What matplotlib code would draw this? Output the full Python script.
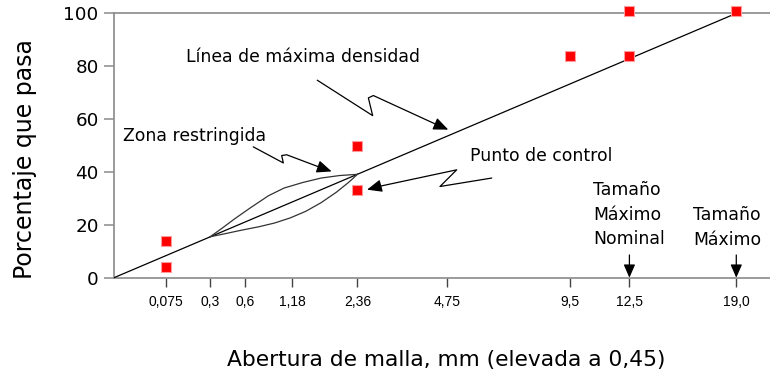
import matplotlib
matplotlib.use("Agg")
import matplotlib.pyplot as plt
import numpy as np

# Sieve openings (mm) and their labels
sieve_mm = [0.075, 0.3, 0.6, 1.18, 2.36, 4.75, 9.5, 12.5, 19.0]
sieve_labels = ["0,075", "0,3", "0,6", "1,18", "2,36", "4,75", "9,5", "12,5", "19,0"]

# Control points (red squares)
ctrl_mm = [0.075, 0.075, 2.36, 2.36, 9.5, 12.5, 12.5, 19.0]
ctrl_pct = [14, 4, 50, 33, 84, 101, 84, 101]

# Maximum density line end points
maxdens_mm = [0.0, 19.0]
maxdens_pct = [0, 100]

# Restricted zone boundaries
zone_upper_mm = [0.3, 0.388, 0.494, 0.646, 0.859, 1.063, 1.339, 1.650, 1.996, 2.36]
zone_upper_pct = [15.5, 18.7, 22.2, 26.3, 31.0, 33.9, 36.0, 37.7, 38.65, 39.1]
zone_lower_mm = [0.3, 0.388, 0.552, 0.749, 0.938, 1.150, 1.388, 1.650, 1.935, 2.184, 2.36]
zone_lower_pct = [15.5, 16.4, 17.9, 19.3, 20.7, 22.6, 25.1, 28.4, 32.4, 36.2, 39.1]

EXP = 0.45


def tx(v):
    return np.asarray(v, dtype=float) ** EXP


fig = plt.figure(figsize=(7.7, 3.78), dpi=100)
ax = fig.add_axes([0.148, 0.2653, 0.852, 0.6995])

spine_c = "#8a8a8a"
ax.spines["right"].set_visible(False)
for s in ("left", "top", "bottom"):
    ax.spines[s].set_color(spine_c)
    ax.spines[s].set_linewidth(1.2)

ax.set_xlim(0, 3.966)
ax.set_ylim(0, 100)

# maximum density line
ax.plot(tx(maxdens_mm), maxdens_pct, color="black", lw=0.9, zorder=3)

# restricted zone
ax.plot(tx(zone_upper_mm), zone_upper_pct, color="#333333", lw=0.9, zorder=3,
        solid_joinstyle="round")
ax.plot(tx(zone_lower_mm), zone_lower_pct, color="#333333", lw=0.9, zorder=3,
        solid_joinstyle="round")

# control points
ax.plot(tx(ctrl_mm), ctrl_pct, linestyle="none", marker="s", markersize=7.5,
        markerfacecolor="#ff0000", markeredgecolor="#ff9a9a", markeredgewidth=0.8,
        clip_on=False, zorder=5)

# axes ticks
ax.set_yticks([0, 20, 40, 60, 80, 100])
ax.tick_params(axis="y", direction="out", length=7, width=1.1, color=spine_c,
               pad=4, labelsize=13.2, labelcolor="black")
ax.set_xticks(tx(sieve_mm))
ax.set_xticklabels(sieve_labels, fontfamily="Liberation Sans", fontsize=10)
ax.tick_params(axis="x", direction="out", length=6.5, width=1.0, color="#444444",
               pad=6, labelcolor="black")

ax.set_ylabel("Porcentaje que pasa", fontsize=17, va="center")
ax.yaxis.set_label_coords(-0.136, 0.449)
ax.set_xlabel("Abertura de malla, mm (elevada a 0,45)", fontsize=15.7, va="center")
ax.xaxis.set_label_coords(0.506, -0.311)

ann_fs = 12.4


def callout(pts):
    xs, ys = zip(*pts)
    ax.plot(xs[:-1], ys[:-1], color="black", lw=0.9, solid_joinstyle="round",
            solid_capstyle="round", clip_on=False, zorder=4)
    ax.annotate("", xy=pts[-1], xytext=pts[-2],
                arrowprops=dict(arrowstyle="-|>,head_length=0.9,head_width=0.38",
                                color="black", lw=0.9, shrinkA=0, shrinkB=0),
                zorder=4)


# Línea de máxima densidad
ax.text(0.435, 83.3, "Línea de máxima densidad", fontsize=ann_fs, ha="left", va="center")
callout([(1.229, 74.7), (1.564, 61.3), (1.538, 68.0), (1.568, 68.9),
         (1.951, 57.9), (2.021, 56.0)])

# Zona restringida
ax.text(0.054, 53.5, "Zona restringida", fontsize=ann_fs, ha="left", va="center")
callout([(0.842, 49.5), (1.024, 43.4), (1.014, 46.2), (1.044, 46.5),
         (1.256, 41.5), (1.316, 40.2)])

# Punto de control
ax.text(2.152, 46.1, "Punto de control", fontsize=ann_fs, ha="left", va="center")
callout([(2.284, 37.7), (1.971, 34.5), (2.072, 40.8), (1.600, 34.5),
         (1.530, 33.3)])

# Nominal maximum size and maximum size markers
ax.text(2.896, 23.8, "Tamaño\nMáximo\nNominal", fontsize=ann_fs, ha="left",
        va="center", linespacing=1.45)
ax.text(3.499, 19.0, "Tamaño\nMáximo", fontsize=ann_fs, ha="left",
        va="center", linespacing=1.45)
for size in (12.5, 19.0):
    u = float(tx(size))
    ax.annotate("", xy=(u, 0), xytext=(u, 8.6),
                arrowprops=dict(arrowstyle="-|>,head_length=0.8,head_width=0.35",
                                color="black", lw=0.9, shrinkA=0, shrinkB=0),
                zorder=4)

fig.savefig("out.png", dpi=100)
